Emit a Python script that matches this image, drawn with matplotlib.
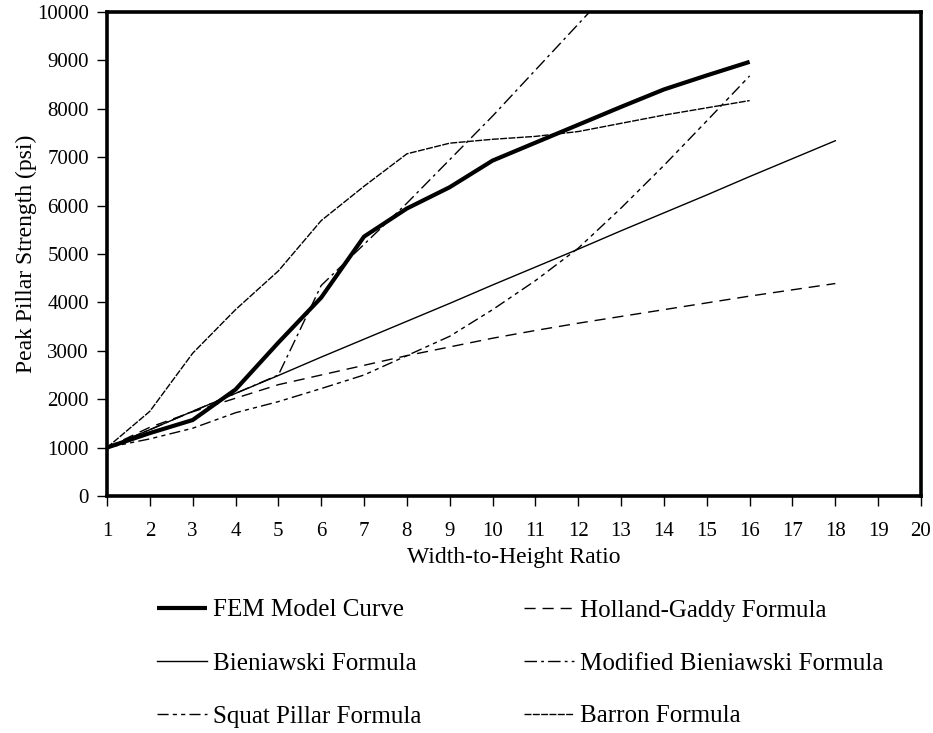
import matplotlib
matplotlib.use("Agg")
import matplotlib.pyplot as plt

plt.rcParams['font.family'] = ['Liberation Serif', 'DejaVu Serif']

# ---- data ----
x16 = [1, 2, 3, 4, 5, 6, 7, 8, 9, 10, 11, 12, 13, 14, 15, 16]
x18 = [1, 2, 3, 4, 5, 6, 7, 8, 9, 10, 11, 12, 13, 14, 15, 16, 17, 18]
x13 = [1, 2, 3, 4, 5, 6, 7, 8, 9, 10, 11, 12, 13]

fem = [1000, 1300, 1570, 2200, 3170, 4100, 5360, 5940, 6380, 6930,
       7300, 7670, 8040, 8400, 8690, 8970]
bieniawski = [1000, 1370, 1750, 2120, 2490, 2870, 3240, 3610, 3980, 4360,
              4730, 5100, 5480, 5850, 6220, 6600, 6970, 7340]
squat = [1000, 1180, 1400, 1720, 1950, 2220, 2500, 2900, 3300, 3850,
         4450, 5120, 5950, 6830, 7750, 8680]
holland = [1000, 1420, 1740, 2020, 2300, 2500, 2700, 2900, 3080, 3260,
           3420, 3570, 3710, 3850, 3990, 4130, 4260, 4390]
mod_bieniawski = [1000, 1370, 1750, 2120, 2500, 4350, 5200, 6050, 6950,
                  7850, 8800, 9750, 10700]
barron = [1000, 1750, 2950, 3850, 4650, 5690, 6400, 7070, 7290, 7370,
          7430, 7530, 7700, 7870, 8020, 8170]

x_ticks = list(range(1, 21))
y_ticks = list(range(0, 10001, 1000))

W, H = 933, 733
fig = plt.figure(figsize=(W / 100, H / 100), dpi=100)
ax = fig.add_axes([107 / W, 1 - 496 / H, (921 - 107) / W, (496 - 12) / H])

ax.plot(x16, fem, color='black', lw=3.0, solid_capstyle='butt', label='FEM Model Curve', zorder=5)
ax.plot(x18, bieniawski, color='black', lw=1.0, label='Bieniawski Formula')
ax.plot(x16, squat, color='black', lw=1.0, ls=(0, (8, 3, 3, 3, 3, 3)), label='Squat Pillar Formula')
ax.plot(x18, holland, color='black', lw=1.0, ls=(0, (8, 5)), label='Holland-Gaddy Formula')
ax.plot(x13, mod_bieniawski, color='black', lw=1.0, ls=(0, (9, 3, 2, 3)), label='Modified Bieniawski Formula')
ax.plot(x16, barron, color='black', lw=1.0, ls=(0, (5, 1)), label='Barron Formula')

ax.set_xlim(1, 20)
ax.set_ylim(0, 10000)
ax.set_xticks(x_ticks)
ax.set_yticks(y_ticks)
ax.tick_params(axis='both', direction='out', length=7, width=1.0, labelsize=15, colors='black')
ax.tick_params(axis='x', pad=12)
ax.tick_params(axis='y', pad=6)
for s in ax.spines.values():
    s.set_linewidth(2.6)
    s.set_color('black')

fig.text(514 / W, 1 - 557 / H, 'Width-to-Height Ratio', ha='center', va='center', fontsize=17)
fig.text(26 / W, 1 - 254 / H, 'Peak Pillar Strength (psi)', ha='center', va='center',
         rotation=90, fontsize=17)

handles, labels = ax.get_legend_handles_labels()
fig.legend(handles, labels, loc='upper left', bbox_to_anchor=(157 / W, 1 - 599 / H),
           ncol=2, frameon=False, fontsize=18, borderpad=0, borderaxespad=0,
           handlelength=2.0, handletextpad=0.25, columnspacing=4.1, labelspacing=1.22)

fig.savefig('out.png', dpi=100, facecolor='white')
